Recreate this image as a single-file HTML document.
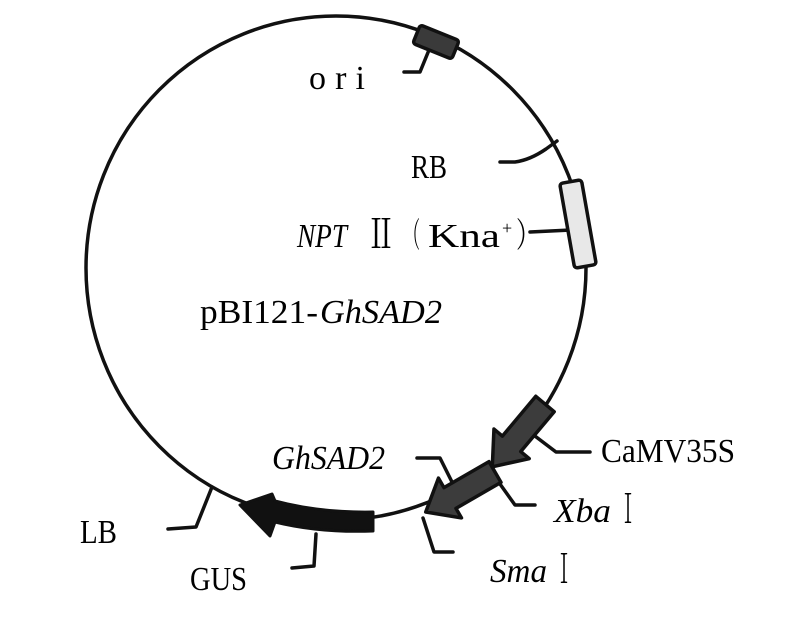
<!DOCTYPE html>
<html><head><meta charset="utf-8"><style>
html,body{margin:0;padding:0;background:#fff;}
svg{display:block;}
text{font-family:"Liberation Serif","Noto Serif CJK SC",serif;fill:#000;}
</style></head><body>
<svg width="787" height="638" viewBox="0 0 787 638">
<g fill="none" stroke="#111" stroke-width="3.5" stroke-linecap="round" stroke-linejoin="round">
<ellipse cx="336" cy="268" rx="250" ry="252"/>
<path d="M429 50 L420 72 L404 72"/>
<path d="M557 141 L546 149 Q530 160 515 162 L500 162"/>
<path d="M571 230 L530 232"/>
<path d="M527 430 L556 452 L590 452"/>
<path d="M490 470 L515 505 L535 505"/>
<path d="M417 458 L440 458 L452 482"/>
<path d="M423 518 L434 552 L453 552"/>
<path d="M212 487 L196 527 L168 529"/>
<path d="M316 534 L314 566 L292 568"/>
</g>
<rect x="-21" y="-10" width="42" height="20" rx="3" transform="translate(436,42) rotate(22)" fill="#3a3a3a" stroke="#111" stroke-width="3.5"/>
<rect x="-11" y="-43" width="22" height="86" rx="3" transform="translate(578,224) rotate(-10)" fill="#e8e8e8" stroke="#111" stroke-width="3.5"/>
<g transform="translate(545,404) rotate(130)">
<path d="M0 -12 L52 -12 L52 -23 L82 0 L52 23 L52 12 L0 12 Z" fill="#3c3c3c" stroke="#111" stroke-width="3.5" stroke-linejoin="round"/>
</g>
<g transform="translate(495,472) rotate(150)">
<path d="M0 -12 L52 -12 L52 -23 L80 0 L52 23 L52 12 L0 12 Z" fill="#3c3c3c" stroke="#111" stroke-width="3.5" stroke-linejoin="round"/>
</g>
<path d="M373 512 L373 531 Q320 533 275 522 L270 536 L240 505 L272 494 L275 501 Q320 513 373 512 Z" fill="#111" stroke="#111" stroke-width="3" stroke-linejoin="round"/>
<g font-size="34">
<text x="309" y="89" textLength="56" lengthAdjust="spacing">ori</text>
<text x="411" y="178" textLength="36" lengthAdjust="spacingAndGlyphs">RB</text>
<text x="297" y="247" font-style="italic" textLength="50" lengthAdjust="spacingAndGlyphs">NPT</text>
<text x="366" y="248" font-size="40" textLength="30" lengthAdjust="spacingAndGlyphs">Ⅱ</text>
<text x="404" y="247" textLength="16" lengthAdjust="spacingAndGlyphs">（</text>
<text x="428" y="247" textLength="72" lengthAdjust="spacingAndGlyphs">Kna</text>
<text x="502" y="234" font-size="18">+</text>
<text x="516" y="247" textLength="24" lengthAdjust="spacingAndGlyphs">）</text>
<text x="200" y="323" textLength="118" lengthAdjust="spacingAndGlyphs">pBI121-</text>
<text x="320" y="323" font-style="italic" textLength="122" lengthAdjust="spacingAndGlyphs">GhSAD2</text>
<text x="272" y="469" font-style="italic" textLength="113" lengthAdjust="spacingAndGlyphs">GhSAD2</text>
<text x="601" y="462" textLength="134" lengthAdjust="spacingAndGlyphs">CaMV35S</text>
<text x="554" y="522" font-style="italic" textLength="57" lengthAdjust="spacingAndGlyphs">Xba</text>
<text x="619" y="523" font-size="40" textLength="18" lengthAdjust="spacingAndGlyphs">Ⅰ</text>
<text x="490" y="582" font-style="italic" textLength="57" lengthAdjust="spacingAndGlyphs">Sma</text>
<text x="555" y="583" font-size="40" textLength="18" lengthAdjust="spacingAndGlyphs">Ⅰ</text>
<text x="80" y="543" textLength="37" lengthAdjust="spacingAndGlyphs">LB</text>
<text x="190" y="590" textLength="57" lengthAdjust="spacingAndGlyphs">GUS</text>
</g>
</svg>
</body></html>
